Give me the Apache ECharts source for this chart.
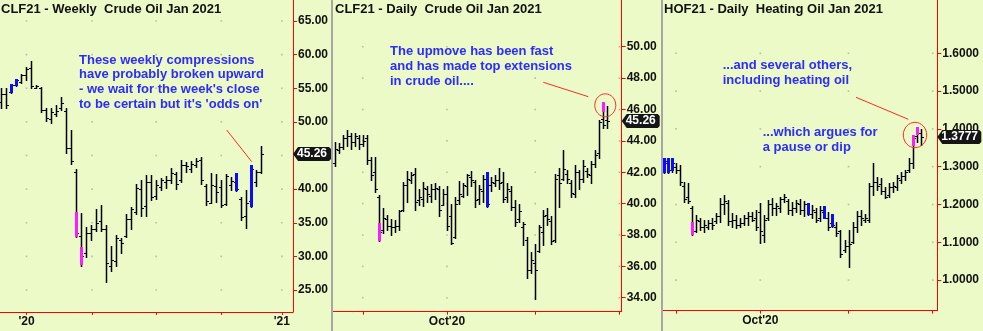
<!DOCTYPE html>
<html><head><meta charset="utf-8">
<script src="https://cdn.jsdelivr.net/npm/echarts@6/dist/echarts.min.js"></script>
<style>html,body{margin:0;padding:0;background:#ebfac6;}#c{width:983px;height:331px;}</style>
</head><body><div id="c"></div>
<script>
// ===== Panel 1: CLF21 weekly (bar index = week) =====
var wkHigh = [55.1,55.1,55.7,56.4,57.1,58.2,59.05,55.5,55.2,52.1,52.0,52.5,53.65,52.0,48.8,43.0,36.4,34.4,34.7,37.1,37.6,34.7,31.6,33.2,32.8,36.25,37.4,40.7,41.35,42.1,42.1,41.35,41.7,42.0,43.1,42.6,44.4,44.1,44.2,44.6,44.8,40.8,42.45,42.25,41.35,42.25,41.85,42.45,38.9,39.8,43.6,42.8,46.4];
var wkLow = [52.1,52.1,54.3,55.4,55.8,56.2,55.0,55.0,51.5,50.1,49.8,50.8,51.8,45.3,43.8,32.9,28.6,29.9,32.4,33.7,33.8,26.25,27.8,28.6,30.5,32.9,34.1,36.25,36.0,36.0,38.4,38.5,39.9,40.1,40.9,40.0,41.0,42.6,42.6,43.3,40.8,37.6,37.9,38.1,37.4,37.6,39.9,39.7,35.4,34.2,37.4,40.4,42.35];
var wkOpen = [53.0,54.1,54.5,55.5,56.0,56.9,58.0,55.1,55.1,51.8,50.5,51.2,52.0,51.6,46.1,42.5,33.0,30.5,33.5,34.0,35.2,34.0,28.5,29.3,32.5,33.0,35.5,36.6,40.0,37.5,41.0,39.0,40.3,41.0,41.4,42.3,41.3,43.6,43.0,43.6,44.3,40.5,38.0,40.5,40.3,37.8,40.6,41.0,38.6,36.0,38.2,41.0,42.6];
var wkClose = [54.1,52.5,55.5,56.2,56.9,57.8,55.3,55.4,51.8,50.6,51.5,51.6,52.8,46.1,44.2,33.5,30.0,33.5,34.0,35.0,34.0,29.0,29.4,32.7,32.0,35.5,37.0,40.2,37.2,41.0,38.8,40.6,41.3,41.4,42.4,40.8,43.6,43.5,43.8,44.2,41.3,38.3,40.6,39.5,37.6,41.9,41.2,40.0,35.8,38.0,43.0,42.6,45.26];
var wkHlIdx = [2,3,15,16,47,50];
var wkHlFrom = [55.7,56.4,36.65,31.35,42.45,43.6];
var wkHlTo = [54.3,55.4,32.9,28.6,39.7,37.4];
var wkHlColor = ['blue','blue','magenta','magenta','blue','blue'];
var wkXTicks = [5.1,18.2,31,44,56.1];
var wkXLabels = ["'20","","","","'21"];
var wkYTicks = [25,30,35,40,45,50,55,60,65];

// ===== Panel 2: CLF21 daily (bar index = trading day) =====
var clHigh = [43.9,43.85,44.4,44.7,44.5,44.5,44.4,44.4,44.4,43.0, 43.0,40.55,39.7,39.3,39.0,38.95,39.6,41.4,42.1,42.0, 42.25,40.95,41.4,41.1,41.25,41.3,41.1,40.9,41.1,40.0, 40.4,41.45,41.3,41.9,42.1,41.5,41.2,41.8,42.0,41.7, 41.8,42.25,42.0,41.3,41.1,40.2,40.0,38.85,37.9,36.9, 37.45,38.65,39.6,39.7,39.2,41.9,42.25,43.4,42.15,41.5, 42.45,42.15,42.75,42.25,42.7,43.4,45.35,46.5,46.2];
var clLow = [42.4,43.2,43.5,43.7,43.5,43.7,43.5,43.7,42.5,41.5, 40.75,37.6,38.1,38.3,38.0,38.2,38.3,39.5,40.1,41.3, 39.6,39.9,39.85,40.1,40.1,40.3,39.2,39.9,38.3,37.4, 37.8,40.0,40.4,40.55,41.15,39.8,40.0,40.1,39.8,40.8, 41.1,40.9,40.1,40.1,39.6,38.6,38.85,37.35,35.25,35.55, 33.95,36.9,37.35,38.65,37.45,37.55,39.8,41.5,41.3,40.45, 40.45,40.9,41.4,41.7,41.3,42.35,42.9,44.85,44.85];
var clOpen = [42.6,43.4,43.6,44.2,44.3,43.9,44.2,43.8,44.2,42.8, 42.0,40.4,38.3,39.0,38.6,38.5,38.6,39.6,41.2,41.5, 41.9,40.2,40.3,40.9,40.5,40.9,40.9,39.9,40.6,39.2, 37.9,40.2,40.5,41.1,41.7,41.4,40.3,40.8,41.6,41.2, 41.3,41.5,41.4,40.4,40.8,39.8,39.0,38.5,37.7,35.8, 36.2,37.0,38.2,39.3,38.9,37.7,41.8,41.6,41.9,41.3, 40.6,42.0,41.6,42.1,41.8,42.5,43.2,45.4,45.3];
var clClose = [43.5,43.6,44.2,44.3,43.9,44.3,43.8,44.0,42.8,41.8, 40.9,38.2,39.1,38.6,38.5,38.6,39.5,41.2,41.6,41.8, 40.1,40.4,41.0,40.6,40.9,41.0,39.6,40.6,38.6,37.5, 40.0,40.6,41.2,41.8,41.5,40.2,40.9,41.6,40.0,41.4, 41.5,41.3,40.3,40.9,39.8,38.8,39.5,38.7,35.8,36.4, 35.8,38.5,39.2,39.0,37.6,41.6,41.3,42.2,41.6,40.7, 42.0,41.6,42.4,41.9,42.5,43.1,45.2,45.0,45.26];
var clHlIdx = [11,38,67];
var clHlFrom = [38.75,42.0,46.5];
var clHlTo = [37.6,39.8,45.85];
var clHlColor = ['magenta','blue','magenta'];
var dayXTicks = [7,28,50,71];
var dayXLabels = ["","Oct'20","",""];
var clYTicks = [34,36,38,40,42,44,46,48,50];

// ===== Panel 3: HOF21 daily (first bar is trading day index 4) =====
var hoFirstIdx = 4;
var hoHigh = [1.322,1.322,1.322,1.309,1.304,1.260,1.256,1.196,1.172,1.163, 1.159,1.159,1.163,1.178,1.216,1.225,1.212,1.177,1.172,1.163, 1.172,1.181,1.181,1.185,1.203,1.172,1.212,1.216,1.203,1.220, 1.229,1.214,1.206,1.212,1.214,1.208,1.203,1.198,1.190,1.195, 1.197,1.181,1.176,1.154,1.132,1.106,1.132,1.154,1.183,1.185, 1.176,1.256,1.309,1.273,1.269,1.247,1.256,1.260,1.278,1.287, 1.291,1.322,1.384,1.406,1.401];
var hoLow = [1.282,1.282,1.287,1.282,1.251,1.207,1.203,1.119,1.128,1.132, 1.128,1.134,1.134,1.150,1.154,1.176,1.146,1.141,1.137,1.141, 1.146,1.146,1.155,1.132,1.097,1.101,1.159,1.172,1.172,1.181, 1.207,1.176,1.172,1.181,1.176,1.170,1.172,1.163,1.154,1.155, 1.163,1.132,1.141,1.117,1.062,1.075,1.035,1.097,1.126,1.146, 1.154,1.154,1.225,1.238,1.229,1.216,1.220,1.234,1.238,1.256, 1.265,1.287,1.296,1.366,1.357];
var hoOpen = [1.290,1.310,1.290,1.300,1.290,1.250,1.220,1.190,1.130,1.155, 1.140,1.140,1.150,1.155,1.170,1.200,1.205,1.155,1.160,1.145, 1.150,1.165,1.170,1.165,1.180,1.120,1.165,1.200,1.190,1.190, 1.215,1.210,1.185,1.190,1.200,1.185,1.200,1.175,1.180,1.165, 1.180,1.165,1.150,1.140,1.130,1.080,1.090,1.100,1.140,1.170, 1.160,1.160,1.250,1.260,1.255,1.235,1.225,1.245,1.245,1.265, 1.275,1.290,1.310,1.380,1.390];
var hoClose = [1.315,1.290,1.310,1.290,1.260,1.215,1.210,1.130,1.160,1.140, 1.145,1.150,1.145,1.170,1.200,1.210,1.155,1.160,1.145,1.150, 1.165,1.170,1.160,1.140,1.130,1.160,1.200,1.190,1.195,1.215, 1.220,1.185,1.190,1.205,1.185,1.200,1.175,1.185,1.160,1.185, 1.165,1.140,1.145,1.125,1.070,1.090,1.095,1.140,1.170,1.165, 1.165,1.250,1.260,1.250,1.235,1.220,1.245,1.250,1.270,1.275, 1.285,1.310,1.375,1.390,1.3777];
var hoHlIdx = [4,5,6,11,40,44,46,66,67];
var hoHlFrom = [1.322,1.322,1.322,1.154,1.203,1.197,1.176,1.384,1.406];
var hoHlTo = [1.282,1.282,1.287,1.119,1.172,1.163,1.141,1.356,1.385];
var hoHlColor = ['blue','blue','blue','magenta','blue','blue','blue','magenta','magenta'];
var hoYTicks = [1.0,1.1,1.2,1.3,1.4,1.5,1.6];

// ===== Texts =====
var titles = ['CLF21 - Weekly  Crude Oil Jan 2021','CLF21 - Daily  Crude Oil Jan 2021','HOF21 - Daily  Heating Oil Jan 2021'];
var note1 = ['These weekly compressions','have probably broken upward',"- we wait for the week's close","to be certain but it's 'odds on'"];
var note2 = ['The upmove has been fast','and has made top extensions','in crude oil....'];
var note3 = ['...and several others,','including heating oil'];
var note4 = ['...which argues for','a pause or dip'];

// ===== Styling =====
var FONT = "'Liberation Sans', Arial, Helvetica, sans-serif";
var RED = '#ff0000';
var COLORS = {blue:'#0b0bff', magenta:'#ff1aff'};
var TXT_BLUE = '#2c2cff';

var chart = echarts.init(document.getElementById('c'), null, {renderer:'canvas'});

function ohlcRender(params, api) {
  var x = api.value(0);
  var pO = api.coord([x, api.value(1)]);
  var pH = api.coord([x, api.value(2)]);
  var pL = api.coord([x, api.value(3)]);
  var pC = api.coord([x, api.value(4)]);
  var cx = Math.round(pH[0]) + 0.5;
  var yo = Math.round(pO[1]) + 0.5, yc = Math.round(pC[1]) + 0.5;
  var st = {stroke:'#000', lineWidth:1.5};
  var st2 = {stroke:'#000', lineWidth:1};
  return {type:'group', children:[
    {type:'line', shape:{x1:cx, y1:Math.round(pH[1]), x2:cx, y2:Math.round(pL[1]) + 1}, style:st},
    {type:'line', shape:{x1:cx - 2.5, y1:yo, x2:cx, y2:yo}, style:st2},
    {type:'line', shape:{x1:cx, y1:yc, x2:cx + 2.5, y2:yc}, style:st2}
  ]};
}
function hlRenderFactory(colors) {
  return function (params, api) {
    var x = api.value(0);
    var p1 = api.coord([x, api.value(1)]);
    var p2 = api.coord([x, api.value(2)]);
    var left = Math.round(p1[0]) - 1;
    var top = Math.round(Math.min(p1[1], p2[1]));
    return {type:'rect', shape:{x:left, y:top, width:3, height:Math.round(Math.abs(p2[1] - p1[1]))},
      style:{fill: COLORS[colors[params.dataIndex]]}};
  };
}
function ohlcData(first, o, h, l, c) {
  var d = [];
  for (var i = 0; i < h.length; i++) d.push([first + i, o[i], h[i], l[i], c[i]]);
  return d;
}
function hlData(idx, from, to) {
  return idx.map(function (v, i) { return [v, from[i], to[i]]; });
}
function dots(xt, yt) {
  var d = [];
  xt.forEach(function (x) { yt.forEach(function (y) { d.push([x, y]); }); });
  return d;
}

var grids = [
  {left:0, top:0, width:293, height:312},
  {left:333, top:0, width:288.7, height:311.7},
  {left:663, top:0, width:274.3, height:310.7}
];
var xRanges = [[-0.2, 58.33], [-0.42, 71.57], [3.74, 72.14]];
var yRanges = [[21.73, 68.12], [33.11, 52.98], [0.919, 1.741]];
var xTicks = [wkXTicks, dayXTicks, dayXTicks];
var xLabels = [wkXLabels, dayXLabels, dayXLabels];
var yTicks = [wkYTicks, clYTicks, hoYTicks];
var yDec = [2, 2, 4];

var xAxes = [], yAxes = [];
for (var k = 0; k < 3; k++) {
  (function (k) {
    xAxes.push({
      type:'value', gridIndex:k, min:xRanges[k][0], max:xRanges[k][1],
      axisLine:{show:true, onZero:false, lineStyle:{color:RED, width:1}},
      axisTick:{show:true, customValues:xTicks[k], length:3, lineStyle:{color:RED}},
      axisLabel:{customValues:xTicks[k], margin:4, color:'#111', fontFamily:FONT, fontWeight:'bold', fontSize:12,
        formatter:function (v) {
          for (var i = 0; i < xTicks[k].length; i++) if (Math.abs(xTicks[k][i] - v) < 1e-6) return xLabels[k][i];
          return '';
        }},
      splitLine:{show:false}
    });
    yAxes.push({
      type:'value', gridIndex:k, position:'right', min:yRanges[k][0], max:yRanges[k][1],
      axisLine:{show:true, onZero:false, lineStyle:{color:RED, width:1}},
      axisTick:{show:true, customValues:yTicks[k], length:4, lineStyle:{color:RED}},
      axisLabel:{customValues:yTicks[k], margin:5, color:'#111', fontFamily:FONT, fontWeight:'bold', fontSize:12,
        formatter:function (v) { return v.toFixed(yDec[k]); }},
      splitLine:{show:false}
    });
  })(k);
}

var series = [];
var sets = [
  {o:wkOpen, h:wkHigh, l:wkLow, c:wkClose, first:0, hi:wkHlIdx, hf:wkHlFrom, ht:wkHlTo, hc:wkHlColor},
  {o:clOpen, h:clHigh, l:clLow, c:clClose, first:0, hi:clHlIdx, hf:clHlFrom, ht:clHlTo, hc:clHlColor},
  {o:hoOpen, h:hoHigh, l:hoLow, c:hoClose, first:hoFirstIdx, hi:hoHlIdx, hf:hoHlFrom, ht:hoHlTo, hc:hoHlColor}
];
sets.forEach(function (s, k) {
  series.push({type:'scatter', xAxisIndex:k, yAxisIndex:k, silent:true, symbol:'rect', symbolSize:1.6,
    itemStyle:{color:'#aab09a'}, data:dots(xTicks[k], yTicks[k]), z:1});
  series.push({type:'custom', xAxisIndex:k, yAxisIndex:k, clip:true, silent:true, renderItem:ohlcRender,
    encode:{x:0, y:[1,2,3,4]}, data:ohlcData(s.first, s.o, s.h, s.l, s.c), z:2});
  series.push({type:'custom', xAxisIndex:k, yAxisIndex:k, clip:true, silent:true, renderItem:hlRenderFactory(s.hc),
    encode:{x:0, y:[1,2]}, data:hlData(s.hi, s.hf, s.ht), z:3});
});

chart.setOption({
  animation:false,
  backgroundColor:'#ebfac6',
  grid:grids, xAxis:xAxes, yAxis:yAxes, series:series
});

// ---- annotations & last-price boxes ----
function textBlock(lines, x, yCenterFirst, lh, color, size) {
  return {type:'text', silent:true, z:50, x:x, y:yCenterFirst - lh / 2,
    style:{text:lines.join('\n'), fill:color, font:'bold ' + size + 'px ' + FONT, lineHeight:lh, verticalAlign:'top', align:'left'}};
}
function priceBox(k, value, dec, bodyW) {
  var y = chart.convertToPixel({yAxisIndex:k}, value);
  var x0 = grids[k].left + grids[k].width;
  y = Math.round(y);
  return {type:'group', zlevel:2, z:100, silent:true, children:[
    {type:'polygon', zlevel:2, z:100, shape:{points:[[x0, y], [x0 + 5, y - 7], [x0 + bodyW, y - 7], [x0 + bodyW + 2, y - 5], [x0 + bodyW + 2, y + 5], [x0 + bodyW, y + 7], [x0 + 5, y + 7]]},
      style:{fill:'#151515'}},
    {type:'text', zlevel:2, z:101, x:x0 + 4, y:y, style:{text:value.toFixed(dec), fill:'#fff', font:'bold 12px ' + FONT, verticalAlign:'middle', align:'left'}}
  ]};
}
var g = [
  {type:'rect', silent:true, z:40, shape:{x:331, y:0, width:2, height:331}, style:{fill:'#a6a6a6'}},
  {type:'rect', silent:true, z:40, shape:{x:661, y:0, width:2, height:331}, style:{fill:'#a6a6a6'}},
  {type:'text', silent:true, z:50, x:1, y:3, style:{text:titles[0], fill:'#111', font:'bold 13px ' + FONT}},
  {type:'text', silent:true, z:50, x:335, y:3, style:{text:titles[1], fill:'#111', font:'bold 13px ' + FONT}},
  {type:'text', silent:true, z:50, x:664, y:3, style:{text:titles[2], fill:'#111', font:'bold 13px ' + FONT}},
  textBlock(note1, 79, 60, 14.8, TXT_BLUE, 13),
  textBlock(note2, 390, 51.7, 14.7, TXT_BLUE, 13),
  textBlock(note3, 722.7, 65.7, 15, TXT_BLUE, 13),
  textBlock(note4, 762.7, 132.7, 14.7, TXT_BLUE, 13),
  {type:'line', silent:true, z:45, shape:{x1:226.7, y1:130, x2:251.7, y2:161.7}, style:{stroke:'#ff2a2a', lineWidth:1}},
  {type:'line', silent:true, z:45, shape:{x1:543.3, y1:82.3, x2:588.3, y2:96.7}, style:{stroke:'#ff2a2a', lineWidth:1}},
  {type:'ellipse', silent:true, z:45, shape:{cx:605.3, cy:105.3, rx:10.5, ry:11.5}, style:{stroke:'#ff2a2a', fill:null, lineWidth:1}},
  {type:'line', silent:true, z:45, shape:{x1:856, y1:97.3, x2:908.3, y2:119.3}, style:{stroke:'#ff2a2a', lineWidth:1}},
  {type:'ellipse', silent:true, z:45, shape:{cx:915, cy:135, rx:11.7, ry:12.7}, style:{stroke:'#ff2a2a', fill:null, lineWidth:1}},
  priceBox(0, wkClose[wkClose.length - 1], 2, 36),
  priceBox(1, clClose[clClose.length - 1], 2, 36),
  priceBox(2, hoClose[hoClose.length - 1], 4, 42)
];
chart.setOption({graphic:g});
</script></body></html>
